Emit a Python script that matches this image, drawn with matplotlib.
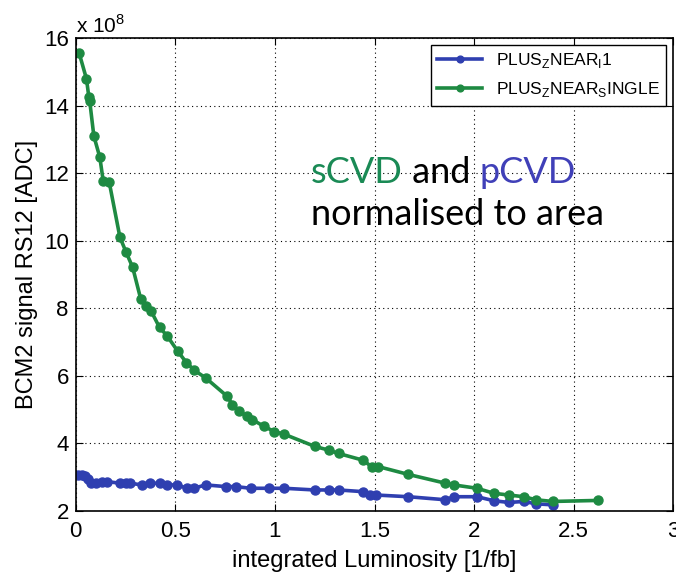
import matplotlib
matplotlib.use("Agg")
import matplotlib.pyplot as plt
import numpy as np

# integrated luminosity [1/fb] and signal [x 1e8 ADC]
lumi_single = [0.017, 0.054, 0.066, 0.070, 0.091, 0.121, 0.138, 0.168, 0.222, 0.253,
               0.286, 0.327, 0.354, 0.379, 0.421, 0.458, 0.512, 0.556, 0.596, 0.652,
               0.761, 0.786, 0.820, 0.862, 0.887, 0.946, 0.997, 1.047, 1.200, 1.270,
               1.320, 1.443, 1.485, 1.520, 1.670, 1.856, 1.898, 2.015, 2.100, 2.175,
               2.250, 2.310, 2.394, 2.620]
sig_single = [15.56, 14.79, 14.25, 14.15, 13.10, 12.47, 11.77, 11.74, 10.10, 9.66,
              9.21, 8.26, 8.08, 7.91, 7.43, 7.19, 6.73, 6.39, 6.16, 5.94,
              5.39, 5.15, 4.95, 4.80, 4.70, 4.50, 4.35, 4.27, 3.91, 3.80,
              3.70, 3.50, 3.31, 3.31, 3.08, 2.82, 2.77, 2.67, 2.52, 2.47,
              2.42, 2.33, 2.28, 2.31]

lumi_11 = [0.012, 0.030, 0.045, 0.060, 0.079, 0.104, 0.130, 0.155, 0.222, 0.250,
           0.273, 0.332, 0.374, 0.424, 0.458, 0.509, 0.559, 0.593, 0.652, 0.753,
           0.803, 0.879, 0.970, 1.047, 1.200, 1.270, 1.320, 1.443, 1.477, 1.510,
           1.670, 1.856, 1.898, 2.015, 2.100, 2.175, 2.250, 2.310, 2.394]
sig_11 = [3.07, 3.05, 3.02, 2.95, 2.82, 2.82, 2.85, 2.87, 2.82, 2.82,
          2.82, 2.77, 2.82, 2.82, 2.77, 2.77, 2.67, 2.67, 2.77, 2.72,
          2.72, 2.67, 2.67, 2.67, 2.62, 2.62, 2.62, 2.57, 2.47, 2.47,
          2.42, 2.33, 2.42, 2.42, 2.30, 2.25, 2.28, 2.21, 2.18]

blue = '#2f3fb0'
green = '#1e8a42'

plt.rcParams['font.family'] = ['Liberation Sans', 'DejaVu Sans']
plt.rcParams['mathtext.fontset'] = 'custom'
plt.rcParams['mathtext.rm'] = 'Liberation Sans'

fig = plt.figure(figsize=(6.76, 5.76), dpi=100)
ax = fig.add_axes([0.112, 0.113, 0.884, 0.821])

ax.plot(lumi_11, sig_11, "o-", color=blue, lw=2.6, ms=6.5,
        label=r'PLUS$_\mathregular{Z}$NEAR$_\mathregular{I}$1')
ax.plot(lumi_single, sig_single, "o-", color=green, lw=2.6, ms=6.5,
        label=r'PLUS$_\mathregular{Z}$NEAR$_\mathregular{S}$INGLE')

ax.set_xlim(0, 3)
ax.set_ylim(2, 16)
ax.set_xticks(np.arange(0, 3.01, 0.5))
ax.set_xticklabels(['0', '0.5', '1', '1.5', '2', '2.5', '3'])
ax.set_yticks(np.arange(2, 16.1, 2))
ax.grid(True, linestyle=(0, (1, 3)), color='k', lw=0.8)
ax.tick_params(direction='in', top=True, right=True, labelsize=16, length=5)
ax.tick_params(axis='x', pad=7)
ax.tick_params(axis='y', pad=5)
for s in ax.spines.values():
    s.set_linewidth(1.2)

ax.set_xlabel('integrated Luminosity [1/fb]', fontsize=17, labelpad=6)
ax.set_ylabel('BCM2 signal RS12 [ADC]', fontsize=17, labelpad=4)
ax.text(0.0, 1.002, r'x 10$^8$', transform=ax.transAxes, fontsize=15, va='bottom', ha='left')

leg = ax.legend(loc='upper right', fontsize=12.5, fancybox=False, edgecolor='k',
                framealpha=1, handlelength=2.6, borderpad=0.35, labelspacing=0.6,
                markerscale=0.75, borderaxespad=0.4)
leg.get_frame().set_linewidth(1.0)

t1 = ax.text(1.18, 12.03, 'sCVD', color='#1a8a55', fontsize=26, family='Lato', va='center')
t2 = ax.annotate(' and ', xy=(1, 0), xycoords=t1, color='k', fontsize=26, family='Lato', va='bottom')
t3 = ax.annotate('pCVD', xy=(1, 0), xycoords=t2, color='#4040b8', fontsize=26, family='Lato', va='bottom')
ax.text(1.18, 10.78, 'normalised to area', color='k', fontsize=26, family='Lato', va='center')

plt.savefig('out.png', dpi=100)
